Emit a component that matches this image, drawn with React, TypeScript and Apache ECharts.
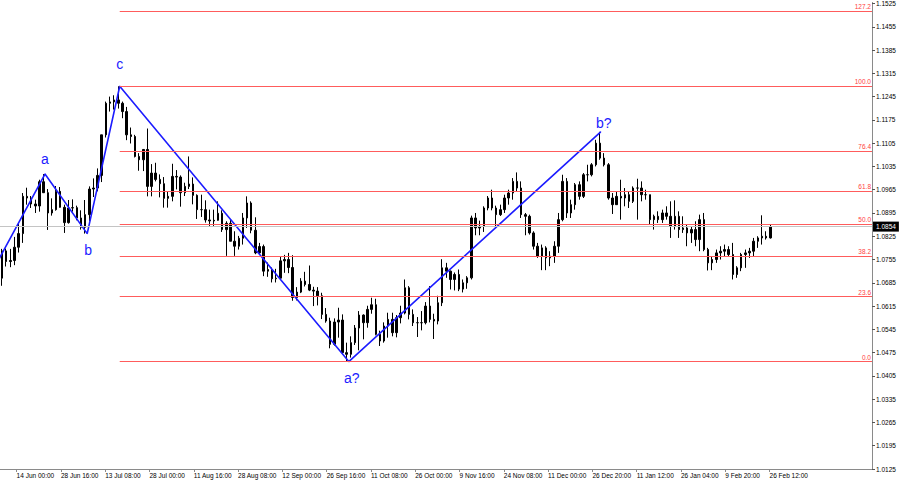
import React, { useEffect, useRef } from "react";
import * as echarts from "echarts";

// Trading days (daily buckets of the H4 chart)
const monthDays: [string, number[]][] = [
  ["Jun", [8, 9, 12, 13, 14, 15, 16, 19, 20, 21, 22, 23, 26, 27, 28, 29, 30]],
  ["Jul", [3, 4, 5, 6, 7, 10, 11, 12, 13, 14, 17, 18, 19, 20, 21, 24, 25, 26, 27, 28, 31]],
  ["Aug", [1, 2, 3, 4, 7, 8, 9, 10, 11, 14, 15, 16, 17, 18, 21, 22, 23, 24, 25, 28, 29, 30, 31]],
  ["Sep", [1, 4, 5, 6, 7, 8, 11, 12, 13, 14, 15, 18, 19, 20, 21, 22, 25, 26, 27, 28, 29]],
  ["Oct", [2, 3, 4, 5, 6, 9, 10, 11, 12, 13, 16, 17, 18, 19, 20, 23, 24, 25, 26, 27, 30, 31]],
  ["Nov", [1, 2, 3, 6, 7, 8, 9, 10, 13, 14, 15, 16, 17, 20, 21, 22, 23, 24, 27, 28, 29, 30]],
  ["Dec", [1, 4, 5, 6, 7, 8, 11, 12, 13, 14, 15, 18, 19, 20, 21, 22, 26, 27, 28, 29]],
  ["Jan", [2, 3, 4, 5, 8, 9, 10, 11, 12, 15, 16, 17, 18, 19, 22, 23, 24, 25, 26, 29, 30, 31]],
  ["Feb", [1, 2, 5, 6, 7, 8, 9, 12, 13, 14, 15, 16, 19, 20, 21, 22, 23, 26]],
];

const open = [
  1.0699, 1.0781, 1.0749, 1.0752, 1.0792, 1.0833, 1.0945, 1.0940, 1.0922, 1.0916,
  1.0989, 1.0956, 1.0895, 1.0905, 1.0960, 1.0912, 1.0866, 1.0910, 1.0911, 1.0880,
  1.0852, 1.0890, 1.0967, 1.0970, 1.1008, 1.1130, 1.1225, 1.1229, 1.1235, 1.1225,
  1.1200, 1.1130, 1.1125, 1.1065, 1.1055, 1.1086, 1.0975, 1.1015, 1.0996, 1.0983,
  1.0939, 1.0945, 1.1005, 1.1003, 1.0956, 1.0975, 1.0982, 1.0948, 1.0905, 1.0905,
  1.0874, 1.0871, 1.0873, 1.0894, 1.0845, 1.0864, 1.0810, 1.0795, 1.0819, 1.0880,
  1.0925, 1.0843, 1.0775, 1.0794, 1.0720, 1.0725, 1.0697, 1.0699, 1.0751, 1.0755,
  1.0731, 1.0641, 1.0657, 1.0690, 1.0680, 1.0663, 1.0660, 1.0646, 1.0590, 1.0570,
  1.0500, 1.0567, 1.0573, 1.0475, 1.0470, 1.0505, 1.0549, 1.0588, 1.0565, 1.0605,
  1.0619, 1.0530, 1.0510, 1.0555, 1.0575, 1.0535, 1.0580, 1.0594, 1.0670, 1.0590,
  1.0565, 1.0565, 1.0565, 1.0615, 1.0575, 1.0570, 1.0625, 1.0730, 1.0720, 1.0695,
  1.0710, 1.0666, 1.0685, 1.0700, 1.0880, 1.0850, 1.0855, 1.0910, 1.0940, 1.0910,
  1.0890, 1.0905, 1.0940, 1.0955, 1.0990, 1.0970, 1.0890, 1.0885, 1.0835, 1.0795,
  1.0765, 1.0790, 1.0760, 1.0765, 1.0795, 1.0875, 1.0990, 1.0895, 1.0920, 1.0980,
  1.0945, 1.1010, 1.1010, 1.1040, 1.1105, 1.1060, 1.1040, 1.0940, 1.0920, 1.0945,
  1.0940, 1.0950, 1.0930, 1.0970, 1.0970, 1.0950, 1.0950, 1.0875, 1.0885, 1.0875,
  1.0895, 1.0885, 1.0855, 1.0885, 1.0845, 1.0850, 1.0835, 1.0845, 1.0815, 1.0875,
  1.0785, 1.0745, 1.0755, 1.0775, 1.0780, 1.0785, 1.0770, 1.0710, 1.0730, 1.0770,
  1.0775, 1.0780, 1.0810, 1.0820, 1.0825, 1.0820,
];
const high = [
  1.0787, 1.0788, 1.0787, 1.0823, 1.0865, 1.0955, 1.0971, 1.0946, 1.0935, 1.0995,
  1.1012, 1.0967, 1.0939, 1.0976, 1.0973, 1.0920, 1.0934, 1.0936, 1.0917, 1.0903,
  1.0934, 1.0975, 1.0999, 1.1029, 1.1130, 1.1230, 1.1245, 1.1249, 1.1276, 1.1230,
  1.1214, 1.1152, 1.1130, 1.1075, 1.1087, 1.1149, 1.1042, 1.1046, 1.1011, 1.1003,
  1.0960, 1.1043, 1.1024, 1.1008, 1.0986, 1.1065, 1.1002, 1.0951, 1.0950, 1.0933,
  1.0905, 1.0905, 1.0930, 1.0903, 1.0870, 1.0875, 1.0840, 1.0826, 1.0895, 1.0945,
  1.0930, 1.0882, 1.0805, 1.0800, 1.0746, 1.0731, 1.0727, 1.0765, 1.0769, 1.0775,
  1.0768, 1.0672, 1.0699, 1.0718, 1.0737, 1.0673, 1.0672, 1.0655, 1.0609, 1.0580,
  1.0578, 1.0610, 1.0590, 1.0505, 1.0524, 1.0558, 1.0600, 1.0590, 1.0616, 1.0640,
  1.0637, 1.0541, 1.0566, 1.0595, 1.0595, 1.0588, 1.0616, 1.0695, 1.0675, 1.0605,
  1.0582, 1.0600, 1.0627, 1.0675, 1.0592, 1.0646, 1.0756, 1.0745, 1.0722, 1.0716,
  1.0725, 1.0695, 1.0705, 1.0887, 1.0895, 1.0872, 1.0915, 1.0946, 1.0965, 1.0917,
  1.0920, 1.0950, 1.0965, 1.1000, 1.1017, 1.0990, 1.0895, 1.0890, 1.0840, 1.0805,
  1.0800, 1.0795, 1.0780, 1.0810, 1.0895, 1.1010, 1.1000, 1.0935, 1.0985, 1.0990,
  1.1015, 1.1040, 1.1045, 1.1115, 1.1139, 1.1075, 1.1045, 1.0955, 1.0960, 1.0995,
  1.0970, 1.0960, 1.0975, 1.0998, 1.0990, 1.0965, 1.0950, 1.0890, 1.0900, 1.0905,
  1.0915, 1.0930, 1.0933, 1.0900, 1.0885, 1.0860, 1.0855, 1.0870, 1.0890, 1.0895,
  1.0790, 1.0765, 1.0785, 1.0795, 1.0800, 1.0795, 1.0805, 1.0735, 1.0775, 1.0785,
  1.0790, 1.0820, 1.0825, 1.0888, 1.0840, 1.0860,
];
const low = [
  1.0676, 1.0734, 1.0732, 1.0738, 1.0776, 1.0805, 1.0920, 1.0910, 1.0895, 1.0899,
  1.0955, 1.0844, 1.0887, 1.0902, 1.0911, 1.0835, 1.0863, 1.0899, 1.0873, 1.0845,
  1.0833, 1.0871, 1.0943, 1.0960, 1.0988, 1.1122, 1.1200, 1.1206, 1.1209, 1.1180,
  1.1114, 1.1104, 1.1062, 1.1022, 1.1021, 1.0945, 1.0945, 1.0990, 1.0942, 1.0911,
  1.0911, 1.0930, 1.0966, 1.0914, 1.0946, 1.0967, 1.0921, 1.0877, 1.0883, 1.0866,
  1.0856, 1.0856, 1.0872, 1.0838, 1.0766, 1.0810, 1.0766, 1.0785, 1.0800, 1.0850,
  1.0834, 1.0771, 1.0770, 1.0705, 1.0703, 1.0686, 1.0686, 1.0695, 1.0715, 1.0714,
  1.0631, 1.0632, 1.0654, 1.0674, 1.0660, 1.0615, 1.0617, 1.0576, 1.0565, 1.0488,
  1.0496, 1.0520, 1.0470, 1.0448, 1.0460, 1.0498, 1.0482, 1.0515, 1.0550, 1.0592,
  1.0527, 1.0495, 1.0505, 1.0520, 1.0524, 1.0521, 1.0563, 1.0590, 1.0575, 1.0555,
  1.0522, 1.0542, 1.0560, 1.0566, 1.0516, 1.0560, 1.0615, 1.0700, 1.0665, 1.0662,
  1.0660, 1.0656, 1.0667, 1.0695, 1.0828, 1.0828, 1.0838, 1.0903, 1.0903, 1.0852,
  1.0886, 1.0895, 1.0920, 1.0935, 1.0960, 1.0880, 1.0828, 1.0830, 1.0785, 1.0760,
  1.0723, 1.0723, 1.0735, 1.0745, 1.0775, 1.0870, 1.0880, 1.0880, 1.0905, 1.0935,
  1.0940, 1.0990, 1.1005, 1.1035, 1.1055, 1.1035, 1.0935, 1.0892, 1.0920, 1.0875,
  1.0915, 1.0910, 1.0925, 1.0875, 1.0930, 1.0935, 1.0860, 1.0845, 1.0865, 1.0865,
  1.0875, 1.0820, 1.0845, 1.0820, 1.0835, 1.0795, 1.0805, 1.0795, 1.0780, 1.0780,
  1.0722, 1.0723, 1.0745, 1.0755, 1.0765, 1.0765, 1.0695, 1.0700, 1.0720, 1.0730,
  1.0760, 1.0765, 1.0790, 1.0800, 1.0815, 1.0818,
];
const close = [
  1.0781, 1.0749, 1.0752, 1.0792, 1.0833, 1.0945, 1.0940, 1.0922, 1.0916, 1.0989,
  1.0956, 1.0895, 1.0905, 1.0960, 1.0912, 1.0866, 1.0910, 1.0911, 1.0880, 1.0852,
  1.0890, 1.0967, 1.0970, 1.1008, 1.1130, 1.1225, 1.1229, 1.1235, 1.1225, 1.1200,
  1.1130, 1.1125, 1.1065, 1.1055, 1.1086, 1.0975, 1.1015, 1.0996, 1.0983, 1.0939,
  1.0945, 1.1005, 1.1003, 1.0956, 1.0975, 1.0982, 1.0948, 1.0905, 1.0905, 1.0874,
  1.0871, 1.0873, 1.0894, 1.0845, 1.0864, 1.0810, 1.0795, 1.0819, 1.0880, 1.0925,
  1.0843, 1.0775, 1.0794, 1.0720, 1.0725, 1.0697, 1.0699, 1.0751, 1.0755, 1.0731,
  1.0641, 1.0657, 1.0690, 1.0680, 1.0663, 1.0660, 1.0646, 1.0590, 1.0570, 1.0500,
  1.0567, 1.0573, 1.0475, 1.0470, 1.0505, 1.0549, 1.0588, 1.0565, 1.0605, 1.0619,
  1.0530, 1.0510, 1.0555, 1.0575, 1.0535, 1.0580, 1.0594, 1.0670, 1.0590, 1.0565,
  1.0565, 1.0565, 1.0615, 1.0575, 1.0570, 1.0625, 1.0730, 1.0720, 1.0695, 1.0710,
  1.0666, 1.0685, 1.0700, 1.0880, 1.0850, 1.0855, 1.0910, 1.0940, 1.0910, 1.0890,
  1.0905, 1.0940, 1.0955, 1.0990, 1.0970, 1.0890, 1.0885, 1.0835, 1.0795, 1.0765,
  1.0790, 1.0760, 1.0765, 1.0795, 1.0875, 1.0990, 1.0895, 1.0920, 1.0980, 1.0945,
  1.1010, 1.1010, 1.1040, 1.1105, 1.1060, 1.1040, 1.0940, 1.0920, 1.0945, 1.0940,
  1.0950, 1.0930, 1.0970, 1.0970, 1.0950, 1.0950, 1.0875, 1.0885, 1.0875, 1.0895,
  1.0885, 1.0855, 1.0885, 1.0845, 1.0850, 1.0835, 1.0845, 1.0815, 1.0875, 1.0785,
  1.0745, 1.0755, 1.0775, 1.0780, 1.0785, 1.0770, 1.0710, 1.0730, 1.0770, 1.0775,
  1.0780, 1.0810, 1.0820, 1.0825, 1.0820, 1.0854,
];

// Time-axis labels (H4 bar index → label)
const tickBars = [64, 128, 192, 256, 320, 384, 448, 512, 576, 640, 704, 768, 832, 896, 960, 1024, 1088, 1152];
const tickLabels = [
  "14 Jun 00:00", "28 Jun 16:00", "13 Jul 08:00", "28 Jul 00:00", "11 Aug 16:00", "28 Aug 08:00",
  "12 Sep 00:00", "26 Sep 16:00", "11 Oct 08:00", "26 Oct 00:00", "9 Nov 16:00", "24 Nov 08:00",
  "11 Dec 00:00", "26 Dec 20:00", "11 Jan 12:00", "26 Jan 04:00", "9 Feb 20:00", "26 Feb 12:00",
];

// Wave markup (H4 bar index, price)
const waveBars = [7, 105, 166, 213, 544, 908];
const wavePrices = [1.0635, 1.1012, 1.0833, 1.1276, 1.0448, 1.1139];
const waveNames = ["", "a", "b", "c", "a?", "b?"];
const wavePos = ["top", "top", "bottom", "top", "bottom", "top"];
const waveDist = [0, 8, 9, 15, 9, 1];
const waveOffX = [0, 0, 1, 0, 3, 3];

// Fibonacci levels (% of c → a? move)
const fibLevels = [0, 23.6, 38.2, 50, 61.8, 76.4, 100, 127.2];
const lastPrice = 1.0854;

const TOTAL_SLOTS = 210;
const BAR_MIN = 40;
const BAR_MAX = BAR_MIN + TOTAL_SLOTS * 6;
const FONT = "Liberation Sans";

export default function App() {
  const ref = useRef<HTMLDivElement>(null);
  useEffect(() => {
    if (!ref.current) return;
    const chart = echarts.init(ref.current, undefined, { renderer: "svg" });
    const cats: string[] = [];
    monthDays.forEach(([m, ds]) => ds.forEach((d) => cats.push(d + " " + m)));
    while (cats.length < TOTAL_SLOTS) cats.push("");
    const candles = open.map((o, i) => [o, close[i], low[i], high[i]]);
    const cHigh = wavePrices[3];
    const aLow = wavePrices[4];
    const fibData = fibLevels.map((r) => {
      const p = aLow + (r / 100) * (cHigh - aLow);
      return [
        { coord: [waveBars[3], p], label: { formatter: r.toFixed(1) } },
        { coord: [BAR_MAX, p] },
      ];
    });
    const waveData = waveBars.map((b, i) => ({
      name: waveNames[i],
      value: [b, wavePrices[i]],
      label: {
        show: waveNames[i] !== "",
        position: wavePos[i],
        distance: waveDist[i],
        offset: [waveOffX[i], 0],
      },
    }));
    const tickMap: Record<number, string> = {};
    tickBars.forEach((b, i) => (tickMap[b] = tickLabels[i]));

    chart.setOption({
      animation: false,
      backgroundColor: "#ffffff",
      grid: { left: 0, right: 28, top: 0, bottom: 16, containLabel: false },
      xAxis: [
        { type: "category", data: cats, show: false, boundaryGap: true },
        {
          type: "value",
          min: BAR_MIN,
          max: BAR_MAX,
          position: "bottom",
          splitLine: { show: false },
          axisLine: { show: true, onZero: false, lineStyle: { color: "#8a8a8a", width: 1 } },
          axisTick: { show: true, customValues: tickBars, length: 3, lineStyle: { color: "#8a8a8a" } },
          axisLabel: {
            customValues: tickBars,
            formatter: (v: number) => tickMap[Math.round(v)] || "",
            align: "left",
            margin: 3,
            fontSize: 6.5,
            color: "#000",
            fontFamily: FONT,
          },
        },
      ],
      yAxis: [
        {
          type: "value",
          position: "right",
          min: 1.0125,
          max: 1.1528,
          interval: 0.007,
          splitLine: { show: false },
          axisLine: { show: true, lineStyle: { color: "#8a8a8a", width: 1 } },
          axisTick: { show: true, length: 3, inside: false, lineStyle: { color: "#555" } },
          axisLabel: {
            formatter: (v: number) => v.toFixed(4),
            fontSize: 6.5,
            color: "#000",
            margin: 4,
            fontFamily: FONT,
          },
        },
      ],
      series: [
        {
          type: "line",
          xAxisIndex: 1,
          yAxisIndex: 0,
          data: [],
          silent: true,
          markLine: {
            silent: true,
            symbol: ["none", "none"],
            lineStyle: { color: "#c4c4c4", width: 1, type: "solid" },
            label: {
              show: true,
              position: "end",
              distance: 1,
              formatter: lastPrice.toFixed(4),
              backgroundColor: "#000",
              color: "#fff",
              fontSize: 6.5,
              fontFamily: FONT,
              padding: [2, 3, 1, 3],
            },
            data: [[{ coord: [BAR_MIN, lastPrice] }, { coord: [BAR_MAX, lastPrice] }]],
          },
          z: 1,
        },
        {
          type: "candlestick",
          xAxisIndex: 0,
          yAxisIndex: 0,
          data: candles,
          barWidth: 2,
          itemStyle: {
            color: "#000",
            color0: "#000",
            borderColor: "#000",
            borderColor0: "#000",
            borderWidth: 1,
          },
          z: 3,
        },
        {
          type: "line",
          xAxisIndex: 1,
          yAxisIndex: 0,
          data: waveData,
          symbol: "circle",
          symbolSize: 1,
          showSymbol: true,
          showAllSymbol: true,
          clip: true,
          lineStyle: { color: "#1c1cff", width: 1.6 },
          itemStyle: { color: "#1c1cff" },
          label: {
            show: true,
            formatter: "{b}",
            color: "#1c1cff",
            fontSize: 14,
            fontFamily: FONT,
          },
          markLine: {
            silent: true,
            symbol: ["none", "none"],
            lineStyle: { color: "#ff5c5c", width: 1, type: "solid" },
            label: {
              show: true,
              position: "insideEndTop",
              distance: 1,
              color: "#ff4040",
              fontSize: 6.5,
              fontFamily: FONT,
            },
            data: fibData,
          },
          z: 4,
        },
      ],
    });
    return () => chart.dispose();
  }, []);
  return (
    <div
      ref={ref}
      style={{ position: "fixed", left: 0, top: 0, width: 900, height: 485, background: "#fff" }}
    />
  );
}
